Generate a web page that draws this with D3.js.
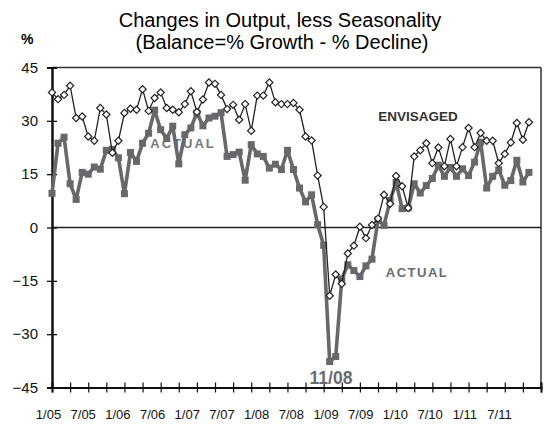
<!DOCTYPE html>
<html>
<head>
<meta charset="utf-8">
<script src="https://cdn.jsdelivr.net/npm/d3@7"></script>
<style>
  body { margin: 0; background: #fff; }
  svg text { font-family: Arial, "Liberation Sans", sans-serif; }
</style>
</head>
<body>
<div id="chart"></div>
<script>
// tick labels shown under the axis
var tickLabels = ["1/05", "7/05", "1/06", "7/06", "1/07", "7/07", "1/08", "7/08",
                  "1/09", "7/09", "1/10", "7/10", "1/11", "7/11"];

// monthly balances, 1/05 .. 8/11
var envisaged = [38.0, 36.1, 37.3, 39.9, 30.8, 31.2, 25.6, 24.4, 33.6, 31.8, 21.0, 24.4,
                 32.2, 33.4, 33.1, 38.9, 32.8, 36.4, 38.0, 33.6, 33.1, 32.4, 34.7, 38.3,
                 32.5, 36.0, 40.8, 40.4, 37.3, 33.3, 34.5, 30.3, 34.7, 27.2, 37.1, 37.1,
                 40.8, 35.2, 34.7, 34.7, 35.0, 33.1, 25.6, 24.5, 14.6, 5.8, -19.2, -13.2,
                 -15.8, -7.3, -5.1, 0.2, -3.0, 0.7, 2.5, 9.2, 6.7, 14.5, 11.6, 5.5,
                 20.0, 21.7, 23.7, 18.1, 22.5, 17.2, 24.9, 17.2, 22.6, 28.0, 22.6, 26.6,
                 24.4, 24.4, 18.1, 20.7, 23.9, 29.4, 24.7, 29.6];

var actual = [9.6, 23.7, 25.4, 12.3, 7.9, 15.5, 15.0, 17.0, 16.4, 21.7, 22.0, 19.6,
              9.5, 21.1, 18.6, 23.7, 26.5, 33.0, 27.5, 25.0, 28.5, 17.9, 26.1, 28.0,
              32.2, 28.6, 30.8, 31.3, 32.3, 20.0, 20.5, 21.2, 13.3, 23.3, 20.7, 20.0,
              16.7, 17.8, 16.3, 21.7, 16.3, 11.1, 7.2, 9.2, 0.8, -5.0, -37.7, -36.3,
              -14.5, -10.5, -12.1, -13.8, -10.8, -8.9, 2.2, 0.6, 7.6, 12.7, 5.3, 5.5,
              12.3, 9.7, 11.8, 13.8, 17.5, 14.4, 16.9, 14.4, 16.5, 14.6, 18.4, 24.0,
              11.1, 14.4, 16.2, 11.9, 13.2, 18.9, 12.8, 15.5];

var yTicks = [-45, -30, -15, 0, 15, 30, 45];

// category axis runs 1/05 .. 10/11
var months = [];
for (var yr = 5; yr <= 11; yr++) {
  for (var m = 1; m <= 12; m++) {
    if (yr === 11 && m > 10) break;
    months.push(m + "/" + (yr < 10 ? "0" + yr : yr));
  }
}

var width = 545, height = 425;
var plotL = 52, plotR = 541, plotT = 67.5, plotB = 387.5;

var svg = d3.select("#chart").append("svg")
    .attr("width", width)
    .attr("height", height);

var x = d3.scalePoint().domain(months).range([plotL, plotR]);
var y = d3.scaleLinear().domain([-45, 45]).range([plotB, plotT]);
var xLab = d3.scalePoint().domain(tickLabels).range([48, 499]);

//Title
svg.append("text")
    .attr("x", 280).attr("y", 27)
    .attr("text-anchor", "middle")
    .style("font-size", "20px")
    .text("Changes in Output, less Seasonality");
svg.append("text")
    .attr("x", 282).attr("y", 49)
    .attr("text-anchor", "middle")
    .style("font-size", "20px")
    .text("(Balance=% Growth - % Decline)");
svg.append("text")
    .attr("x", 21).attr("y", 44)
    .style("font-size", "14px").style("font-weight", "bold")
    .text("%");

//Frame and zero line
svg.append("line")
    .attr("x1", plotL).attr("x2", plotR).attr("y1", plotT).attr("y2", plotT)
    .attr("stroke", "#333").attr("stroke-width", 1.5);
svg.append("line")
    .attr("x1", plotR).attr("x2", plotR).attr("y1", plotT).attr("y2", plotB)
    .attr("stroke", "#333").attr("stroke-width", 1.5);
svg.append("line")
    .attr("x1", plotL).attr("x2", plotR).attr("y1", y(0)).attr("y2", y(0))
    .attr("stroke", "#222").attr("stroke-width", 1.3);

//Y axis, ticks on both sides
[5, -5].forEach(function(s) {
  var g = svg.append("g")
      .attr("transform", "translate(" + plotL + ",0)")
      .call(d3.axisLeft(y).tickValues(yTicks).tickSize(s).tickFormat(s > 0 ? d3.format("d") : ""));
  g.select(".domain").attr("stroke", "#111").attr("stroke-width", 2);
  g.selectAll(".tick line").attr("stroke", "#111").attr("stroke-width", 1.3);
  g.selectAll("text").style("font-size", "15px").attr("fill", "#111").attr("x", -14);
});

//X axis, ticks every 3 months
var xTickVals = months.filter(function(d, i) { return i % 3 === 0; });
[5, -5].forEach(function(s) {
  var g = svg.append("g")
      .attr("transform", "translate(0," + plotB + ")")
      .call(d3.axisBottom(x).tickValues(xTickVals).tickSize(s).tickFormat(""));
  g.select(".domain").attr("stroke", "#111").attr("stroke-width", 2);
  g.selectAll(".tick line").attr("stroke", "#111").attr("stroke-width", 1.2);
});

var lab = svg.append("g")
    .attr("transform", "translate(0," + plotB + ")")
    .call(d3.axisBottom(xLab).tickSize(0));
lab.select(".domain").remove();
lab.selectAll("text").style("font-size", "13px").attr("fill", "#111").attr("y", 31).attr("dy", 0);

//Series labels under the lines
svg.append("text")
    .attr("x", 183).attr("y", 148)
    .attr("text-anchor", "middle")
    .style("font-size", "13px").style("font-weight", "bold")
    .style("letter-spacing", "2px")
    .attr("fill", "#77777b")
    .text("ACTUAL");

var lineGen = d3.line()
    .x(function(d, i) { return x(months[i]); })
    .y(function(d) { return y(d); });

//Actual
svg.append("path")
    .datum(actual)
    .attr("d", lineGen)
    .attr("fill", "none")
    .attr("stroke", "#67676c")
    .attr("stroke-width", 3.6)
    .attr("stroke-linejoin", "round");

svg.selectAll(".sq")
    .data(actual)
  .enter().append("rect")
    .attr("class", "sq")
    .attr("x", function(d, i) { return x(months[i]) - 3.5; })
    .attr("y", function(d) { return y(d) - 3.5; })
    .attr("width", 7).attr("height", 7)
    .attr("fill", "#67676c");

//Envisaged
svg.append("path")
    .datum(envisaged)
    .attr("d", lineGen)
    .attr("fill", "none")
    .attr("stroke", "#222")
    .attr("stroke-width", 1.3);

svg.selectAll(".dm")
    .data(envisaged)
  .enter().append("path")
    .attr("class", "dm")
    .attr("d", d3.symbol().type(d3.symbolSquare).size(26))
    .attr("transform", function(d, i) { return "translate(" + x(months[i]) + "," + y(d) + ") rotate(45)"; })
    .attr("fill", "#fff")
    .attr("stroke", "#222")
    .attr("stroke-width", 1.2);

//Annotations
svg.append("text")
    .attr("x", 418).attr("y", 121)
    .attr("text-anchor", "middle")
    .style("font-size", "13.5px").style("font-weight", "bold")
    .attr("fill", "#333")
    .text("ENVISAGED");
svg.append("text")
    .attr("x", 417).attr("y", 277)
    .attr("text-anchor", "middle")
    .style("font-size", "13px").style("font-weight", "bold")
    .style("letter-spacing", "1.5px")
    .attr("fill", "#6a6a6e")
    .text("ACTUAL");
svg.append("text")
    .attr("x", 331).attr("y", 384)
    .attr("text-anchor", "middle")
    .style("font-size", "17.5px").style("font-weight", "bold")
    .attr("fill", "#6a6a6e")
    .text("11/08");
</script>
</body>
</html>
